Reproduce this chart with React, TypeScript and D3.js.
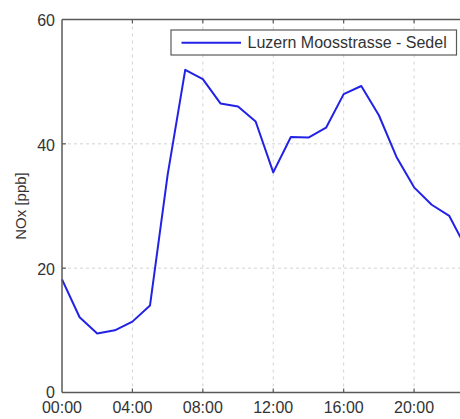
import React from "react";
import * as d3 from "d3";

// Hourly mean NOx at Luzern Moosstrasse - Sedel
const hours = [0, 1, 2, 3, 4, 5, 6, 7, 8, 9, 10, 11, 12, 13, 14, 15, 16, 17, 18, 19, 20, 21, 22, 23];
const noxValues = [18.2, 12.1, 9.5, 10.0, 11.4, 14.0, 35.0, 51.9, 50.4, 46.5, 46.0, 43.6, 35.4, 41.1, 41.0, 42.6, 48.0, 49.3, 44.6, 37.9, 33.0, 30.2, 28.4, 23.0];
const xTicks = [0, 4, 8, 12, 16, 20];
const xTickLabels = ["00:00", "04:00", "08:00", "12:00", "16:00", "20:00"];
const yTicks = [0, 20, 40, 60];
const seriesName = "Luzern Moosstrasse - Sedel";

const W = 460;
const H = 419;
const axisColor = "#5a5a5a";
const gridColor = "#d2d2d2";
const textColor = "#333";
const lineColor = "#2222e6";
const font = "Liberation Sans, Arial, sans-serif";

export default function App() {
  const x = d3.scaleLinear().domain([0, 24]).range([62, 484.5]);
  const y = d3.scaleLinear().domain([0, 60]).range([392.5, 19.5]);
  const line = d3
    .line<number>()
    .x((_, i) => x(hours[i]))
    .y((d) => y(d));
  const path = line(noxValues) || "";
  const [x0, x1] = x.range();
  const [yb, yt] = y.range();

  return (
    <svg
      width={W}
      height={H}
      style={{ position: "absolute", left: 0, top: 0, background: "#fff" }}
    >
      {/* grid */}
      {yTicks.slice(1, -1).map((t) => (
        <line key={"gy" + t} x1={x0} x2={x1} y1={y(t)} y2={y(t)} stroke={gridColor} strokeDasharray="3,3" strokeWidth={1} />
      ))}
      {xTicks.slice(1).map((t) => (
        <line key={"gx" + t} x1={x(t)} x2={x(t)} y1={yt} y2={yb} stroke={gridColor} strokeDasharray="3,4" strokeWidth={1} />
      ))}

      {/* data line */}
      <path d={path} fill="none" stroke={lineColor} strokeWidth={2} strokeLinejoin="round" />

      {/* axes frame */}
      <line x1={x0} x2={x0} y1={yt} y2={yb} stroke={axisColor} strokeWidth={1.5} />
      <line x1={x0} x2={x1} y1={yb} y2={yb} stroke={axisColor} strokeWidth={1.5} />
      <line x1={x0} x2={x1} y1={yt} y2={yt} stroke={axisColor} strokeWidth={1.5} />

      {/* ticks */}
      {xTicks.slice(1).map((t) => (
        <g key={"tx" + t}>
          <line x1={x(t)} x2={x(t)} y1={yb} y2={yb - 4} stroke={axisColor} strokeWidth={1.2} />
          <line x1={x(t)} x2={x(t)} y1={yt} y2={yt + 4} stroke={axisColor} strokeWidth={1.2} />
        </g>
      ))}
      {yTicks.slice(1, -1).map((t) => (
        <line key={"ty" + t} x1={x0} x2={x0 + 4} y1={y(t)} y2={y(t)} stroke={axisColor} strokeWidth={1.2} />
      ))}

      {/* tick labels */}
      {xTicks.map((t, i) => (
        <text key={"lx" + t} x={x(t)} y={413} textAnchor="middle" fontFamily={font} fontSize={16} fill={textColor}>
          {xTickLabels[i]}
        </text>
      ))}
      {yTicks.map((t) => (
        <text key={"ly" + t} x={55} y={y(t) + (t === 0 ? 5 : 6.7)} textAnchor="end" fontFamily={font} fontSize={16} fill={textColor}>
          {t}
        </text>
      ))}

      {/* y axis title */}
      <text
        transform={`translate(26,${(yt + yb) / 2}) rotate(-90)`}
        textAnchor="middle"
        fontFamily={font}
        fontSize={15}
        fill={textColor}
      >
        NOx [ppb]
      </text>

      {/* legend */}
      <rect x={171} y={30} width={285.5} height={25} fill="#fff" stroke={axisColor} strokeWidth={1.2} />
      <line x1={181.5} x2={241} y1={42.7} y2={42.7} stroke={lineColor} strokeWidth={2} />
      <text x={247.5} y={48.3} fontFamily={font} fontSize={16} fill={textColor}>
        {seriesName}
      </text>
    </svg>
  );
}
